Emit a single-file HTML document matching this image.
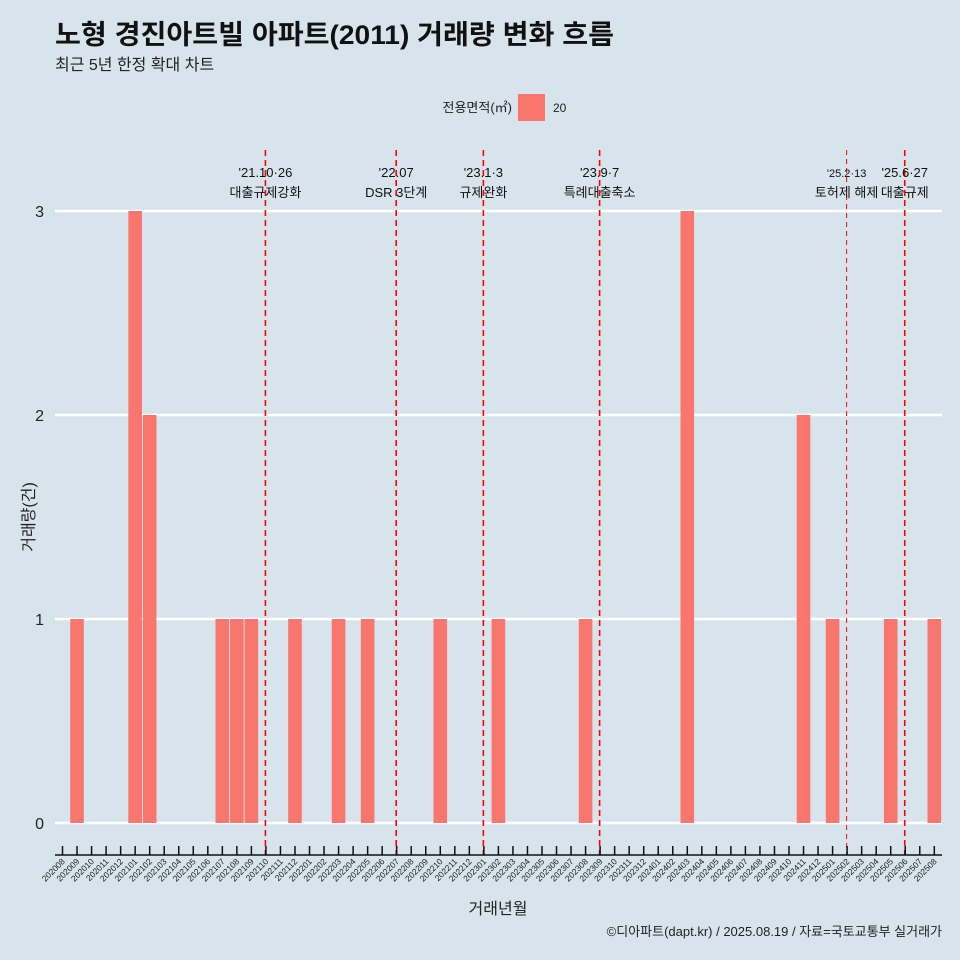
<!DOCTYPE html>
<html><head><meta charset="utf-8"><style>
body{margin:0;background:#d7e4ec;}
svg{display:block;font-family:"Liberation Sans","Noto Sans CJK KR",sans-serif;}
</style></head><body>
<svg id="c" width="960" height="960" viewBox="0 0 960 960">
<rect width="960" height="960" fill="#d7e4ec"/>
<text x="55" y="44" font-size="27" font-weight="bold" fill="#111" textLength="559" lengthAdjust="spacingAndGlyphs">노형 경진아트빌 아파트(2011) 거래량 변화 흐름</text>
<text x="55" y="70" font-size="16" fill="#222">최근 5년 한정 확대 차트</text>
<g>
<text x="512" y="112" font-size="13" text-anchor="end" fill="#222">전용면적(㎡)</text>
<rect x="518" y="94" width="27" height="27" fill="#f8766d"/>
<text x="553" y="112" font-size="12" fill="#222">20</text>
</g>
<g id="grid"></g><g id="bars"></g><g id="events"></g><g id="axes"></g>
<text x="498" y="914" font-size="16" text-anchor="middle" fill="#222">거래년월</text>
<text transform="translate(34,517) rotate(-90)" font-size="16" text-anchor="middle" fill="#222">거래량(건)</text>
<text x="942" y="936" font-size="13" text-anchor="end" fill="#222">©디아파트(dapt.kr) / 2025.08.19 / 자료=국토교통부 실거래가</text>
</svg>
<script>
const months = [];
for (let y=2020;y<=2025;y++) for (let m=1;m<=12;m++){const k=y*100+m; if(k>=202008&&k<=202508) months.push(String(k));}
const tradeMonths = ["202009","202101","202102","202107","202108","202109","202112","202203","202205","202210","202302","202308","202403","202411","202501","202505","202508"];
const tradeCounts = [1,3,2,1,1,1,1,1,1,1,1,1,3,2,1,1,1];
const yTicks = [0,1,2,3];
const eventMonth = ["202110","202207","202301","202309","202502","202506"];
const eventDate = ["'21.10·26","'22.07","'23.1·3","'23.9·7","'25.2·13","'25.6·27"];
const eventText = ["대출규제강화","DSR 3단계","규제완화","특례대출축소","토허제 해제","대출규제"];
const NS="http://www.w3.org/2000/svg";
const x0=62.5, step=14.53, yBase=823, yUnit=204;
const xs=i=>x0+i*step, ys=v=>yBase-v*yUnit;
function mk(t,a,p){const e=document.createElementNS(NS,t);for(const k in a)e.setAttribute(k,a[k]);p.appendChild(e);return e;}
const grid=document.getElementById('grid');
yTicks.forEach(v=>{
 const l=mk('line',{x1:55,x2:942,y1:ys(v),y2:ys(v),stroke:'#fff','stroke-width':2.5},grid);
 
 
 const t=mk('text',{x:44,y:ys(v)+6,'font-size':16,'text-anchor':'end',fill:'#222'},grid);
 t.textContent=v;
 
 
});
const bars=document.getElementById('bars');
tradeMonths.forEach((m,j)=>{
 const i=months.indexOf(m); const v=tradeCounts[j];
 const r=mk('rect',{x:xs(i)-6.8,y:ys(v),width:13.6,height:v*yUnit,fill:'#f8766d'},bars);
 
 
});
const ev=document.getElementById('events');
eventMonth.forEach((m,k)=>{
 const x=xs(months.indexOf(m))-0.5; const small=k===4;
 const l=mk('line',{x1:x,x2:x,y1:150,y2:855,stroke:'#f00','stroke-width':small?1:1.6,'stroke-dasharray':small?'5,4':'6,4'},ev);
 
 
 const a=mk('text',{x:x,y:177,'font-size':small?11:13,'text-anchor':'middle',fill:'#111'},ev);
 a.textContent=eventDate[k];
 
 
 const b=mk('text',{x:x,y:197,'font-size':13,'text-anchor':'middle',fill:'#111'},ev);
 b.textContent=eventText[k];
 
 
});
const ax=document.getElementById('axes');
const al=mk('line',{x1:55,x2:942,y1:855,y2:855,stroke:'#111','stroke-width':1.5},ax);


months.forEach((m,i)=>{
 const x=xs(i);
 const t=mk('line',{x1:x,x2:x,y1:846,y2:855,stroke:'#111','stroke-width':1.5},ax);
 
 
 const tx=mk('text',{transform:`translate(${x+3},862) rotate(-45)`,'font-size':8.5,'text-anchor':'end',fill:'#222'},ax);
 tx.textContent=m;
 
 
});
</script>
</body></html>
